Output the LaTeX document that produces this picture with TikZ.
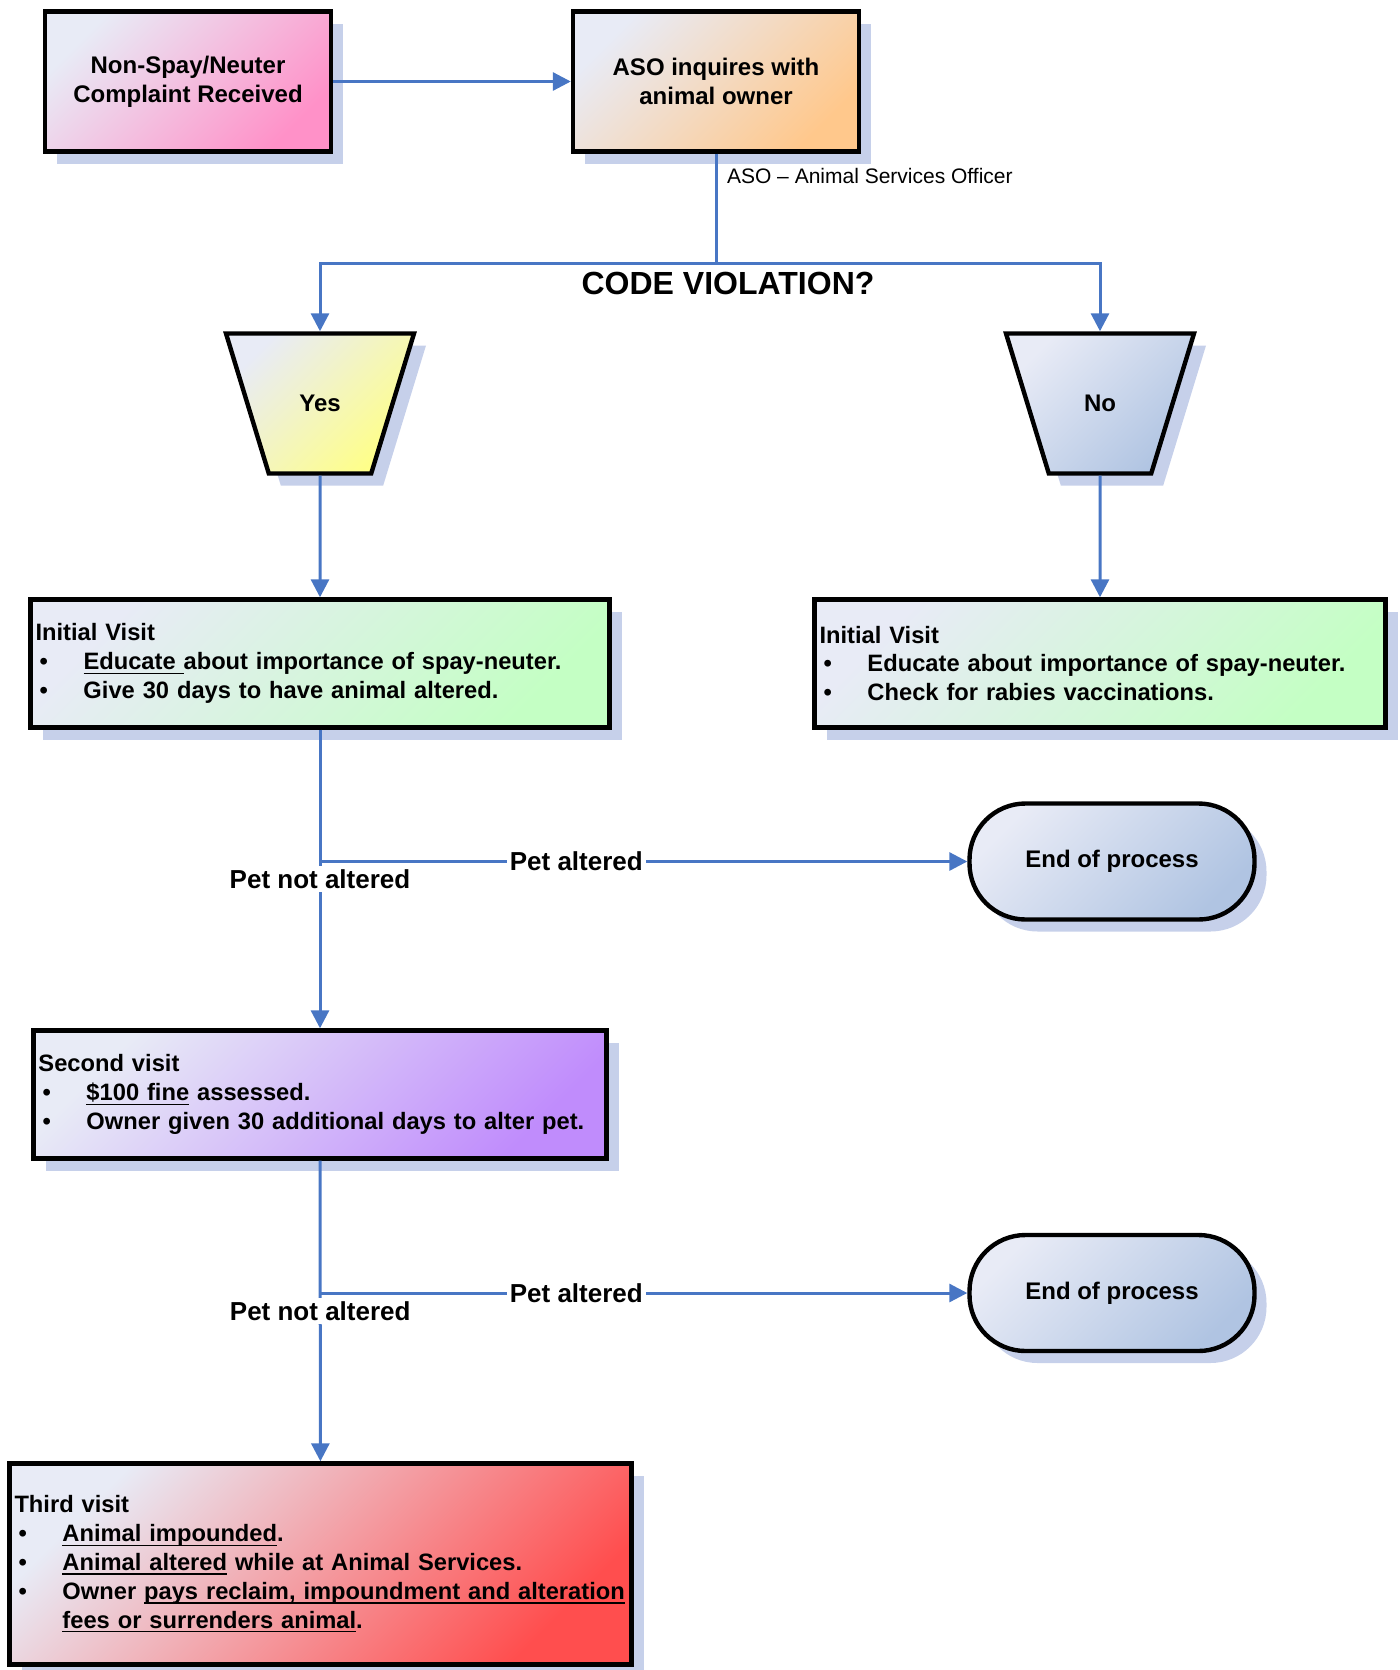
\documentclass[tikz,border=0pt]{standalone}
\usepackage{fontspec}
\setmainfont{Liberation Sans}
\usetikzlibrary{arrows.meta,shapes.geometric,shadows}
\definecolor{linkblue}{RGB}{72,118,196}
\definecolor{shadowblue}{RGB}{198,208,234}
\definecolor{paleface}{RGB}{232,235,246}
\definecolor{pinkfill}{RGB}{255,145,200}
\definecolor{orangefill}{RGB}{255,200,140}
\definecolor{yellowfill}{RGB}{255,255,135}
\definecolor{steelfill}{RGB}{176,196,226}
\definecolor{greenfill}{RGB}{196,255,196}
\definecolor{purplefill}{RGB}{192,140,252}
\definecolor{redfill}{RGB}{255,78,78}
\newcommand{\bul}{\hspace*{2pt}\makebox[22pt][l]{\textbullet}}
\newsavebox{\undlbox}
\newcommand{\undl}[1]{\sbox{\undlbox}{#1}\rlap{\rule[-2.2pt]{\wd\undlbox}{0.7pt}}\usebox{\undlbox}}
\tikzset{
  shaded/.style={top color=paleface, middle color=#1!85!paleface, bottom color=#1, shading angle=45},
  boxshadow/.style={drop shadow={shadow xshift=6pt, shadow yshift=-6pt, fill=shadowblue, opacity=1}},
  block/.style={draw, line width=2.2pt, boxshadow, font=\bfseries\fontsize{12}{14.4}\selectfont},
  stepbox/.style={block, rectangle, align=center, minimum width=143pt, minimum height=70pt},
  visit/.style={block, rectangle, align=left, inner xsep=2.5pt, text width=#1, minimum height=64pt,
    font=\bfseries\fontsize{11.85}{14.4}\selectfont},
  answer/.style={block, trapezium, shape border rotate=180, trapezium left angle=73,
    trapezium right angle=73, trapezium stretches body=true, text height=8.7pt, text depth=0.3pt,
    inner ysep=30.5pt, minimum width=94pt},
  finish/.style={block, rectangle, rounded corners=28pt, minimum width=142.5pt, minimum height=58pt},
  tag/.style={fill=white, inner sep=1.5pt, font=\bfseries\fontsize{13}{15}\selectfont},
  link/.style={draw=linkblue, line width=1.5pt},
}
\begin{document}
\begin{tikzpicture}[x=0.5pt,y=-0.5pt]
      \useasboundingbox (0,0) rectangle (1400,1670);
      \draw
        (188,81.5) node[stepbox, shaded=pinkfill] (complaint){Non-Spay/Neuter\\Complaint Received}
        (716,81.5) node[stepbox, shaded=orangefill] (inquire){ASO inquires with\\animal owner}
        (320,403.5) node[answer, shaded=yellowfill] (yes){Yes}
        (1100,403.5) node[answer, shaded=steelfill] (no){No}
        (320,663.5) node[visit=284.5pt, shaded=greenfill] (initYes){Initial Visit\\
          \bul\undl{Educate }about importance of spay-neuter.\\
          \bul Give 30 days to have animal altered.}
        (1100,663.5) node[visit=280.5pt, shaded=greenfill] (initNo){Initial Visit\\
          \bul Educate about importance of spay-neuter.\\
          \bul Check for rabies vaccinations.}
        (1112,861.5) node[finish, shaded=steelfill] (end1){End of process}
        (320,1094.5) node[visit=281.5pt, shaded=purplefill] (second){Second visit\\
          \bul\undl{\$100 fine} assessed.\\
          \bul Owner given 30 additional days to alter pet.}
        (1112,1293) node[finish, shaded=steelfill] (end2){End of process}
        (320.5,1564) node[visit=306pt, minimum height=100.5pt, shaded=redfill] (third){Third visit\\
          \bul\undl{Animal impounded}.\\
          \bul\undl{Animal altered} while at Animal Services.\\
          \bul\mbox{Owner \undl{pays reclaim, impoundment and alteration}}\\
          \hspace*{24pt}\undl{fees or surrenders animal}.};
      \node[anchor=west, font=\fontsize{10.5}{12}\selectfont] (asonote) at (720,176) {ASO – Animal Services Officer};
      \node[font=\bfseries\fontsize{16}{19}\selectfont] (question) at (728,283) {CODE VIOLATION?};
      \coordinate (split) at (716,263);
      \coordinate (turn1) at (initYes |- end1);
      \coordinate (turn2) at (second |- end2);
      \begin{scope}[link, -{Triangle[length=9pt,width=9pt]}]
        \draw (complaint) to (inquire);
        \draw[-] (inquire) to (split);
        \draw (split) -| (yes);
        \draw (split) -| (no);
        \draw (yes) to (initYes);
        \draw (no) to (initNo);
        \draw (initYes) to node[tag, pos=0.5]{Pet not altered} (second);
        \draw (turn1) to node[tag, pos=0.396]{Pet altered} (end1);
        \draw (second) to node[tag, pos=0.5]{Pet not altered} (third);
        \draw (turn2) to node[tag, pos=0.396]{Pet altered} (end2);
      \end{scope}
    \end{tikzpicture}
\end{document}
